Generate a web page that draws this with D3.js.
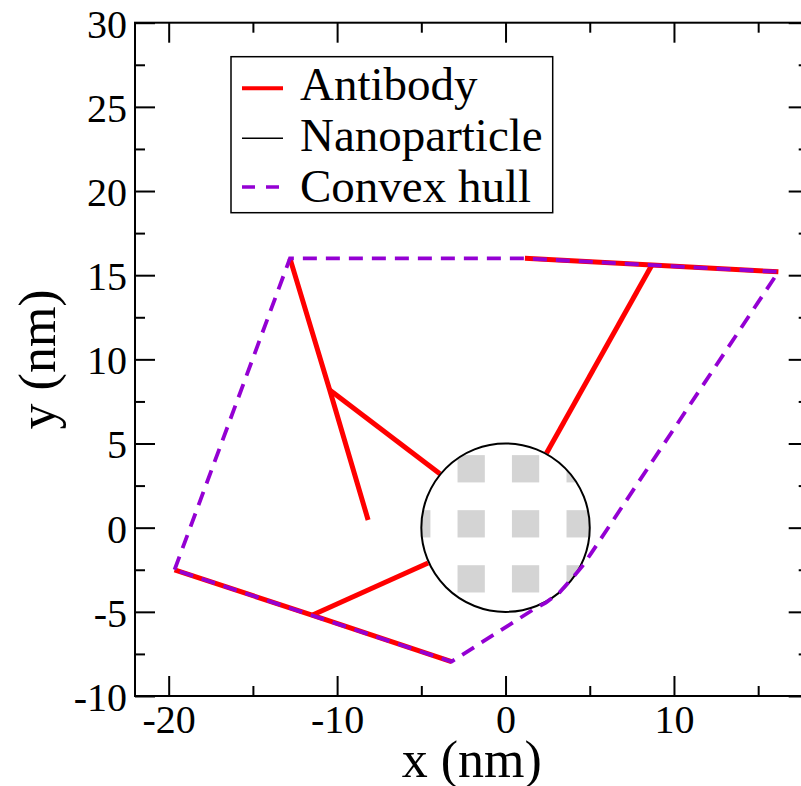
<!DOCTYPE html>
<html>
<head>
<meta charset="utf-8">
<script src="https://cdn.jsdelivr.net/npm/d3@7"></script>
<style>
  html, body { margin: 0; padding: 0; background: #fff; }
  svg { display: block; }
  text { font-family: "Liberation Serif", "Times New Roman", serif; fill: #000; }
</style>
</head>
<body>
<svg id="chart" width="801" height="786"></svg>
<script>
// ---- data (nm) ----
const xMajor = [-20, -10, 0, 10];
const xMinor = [-15, -5, 5, 15];
const yMajor = [-10, -5, 0, 5, 10, 15, 20, 25, 30];
const yMinor = [-7.5, -2.5, 2.5, 7.5, 12.5, 17.5, 22.5, 27.5];

// antibody chains: each is a polyline [x, y]
const antibodyChains = [
  [[-12.8, 16.0], [-10.44, 8.18], [-8.16, 0.46]],
  [[-10.44, 8.18], [-3.9, 3.2]],
  [[-19.65, -2.5], [-11.49, -5.2], [-3.21, -7.96]],
  [[-11.49, -5.2], [-4.6, -2.1]],
  [[1.15, 16.0], [8.69, 15.6], [16.2, 15.2]],
  [[8.69, 15.6], [2.43, 4.42]]
];

// convex hull vertices
const hull = [
  [-19.65, -2.5], [-12.8, 16.0], [1.15, 16.0], [16.2, 15.2],
  [5.1, -1.5], [4.55, -2.3], [4.0, -2.95], [3.2, -3.85], [2.4, -4.45], [1.75, -4.8],
  [-3.21, -7.96]
];

// nanoparticle
const npCenter = [0, 0];
const npRadius = 5;
const patchX = [-5.27, -2.04, 1.19, 4.43];
const patchY = [3.5, 0.23, -3.04];
const patchSize = 1.62;

const legendItems = ["Antibody", "Nanoparticle", "Convex hull"];

// ---- layout ----
const svg = d3.select('#chart');
const x = d3.scaleLinear().domain([-22, 18]).range([135, 808.7]);
const y = d3.scaleLinear().domain([-10, 30]).range([696, 22.7]);
const sx = d => x(d) - x(0); // nm -> px length

const red = '#ff0000', purple = '#9400d3';
const line = d3.line().x(d => x(d[0])).y(d => y(d[1]));

// antibodies
svg.append('g').selectAll('path')
  .data(antibodyChains)
  .join('path')
    .attr('d', line)
    .attr('fill', 'none')
    .attr('stroke', red)
    .attr('stroke-width', 5)
    .attr('stroke-linejoin', 'miter');

// nanoparticle
svg.append('clipPath').attr('id', 'npclip')
  .append('circle')
    .attr('cx', x(npCenter[0])).attr('cy', y(npCenter[1])).attr('r', sx(npRadius));

const np = svg.append('g');
np.append('circle')
  .attr('cx', x(npCenter[0])).attr('cy', y(npCenter[1])).attr('r', sx(npRadius))
  .attr('fill', '#fff');

const cells = [];
patchX.forEach(px => patchY.forEach(py => cells.push([px, py])));
np.append('g').attr('clip-path', 'url(#npclip)')
  .selectAll('rect')
  .data(cells)
  .join('rect')
    .attr('x', d => x(d[0] - patchSize / 2))
    .attr('y', d => y(d[1] + patchSize / 2))
    .attr('width', sx(patchSize))
    .attr('height', sx(patchSize))
    .attr('fill', '#d4d4d4');

np.append('circle')
  .attr('cx', x(npCenter[0])).attr('cy', y(npCenter[1])).attr('r', sx(npRadius))
  .attr('fill', 'none').attr('stroke', '#000').attr('stroke-width', 2);

// hull
svg.append('path')
  .datum(hull)
  .attr('d', d3.line().x(d => x(d[0])).y(d => y(d[1])).curve(d3.curveLinearClosed))
  .attr('fill', 'none')
  .attr('stroke', purple)
  .attr('stroke-width', 3.8)
  .attr('stroke-dasharray', '14,9');

// ---- axes (ticks point inward on all four sides) ----
const fmt = d => String(d);
function styleAxis(g) {
  g.select('.domain').remove();
  g.selectAll('line').attr('stroke', '#000').attr('stroke-width', 2);
}

const yB = y(-10), yT = y(30), xL = x(-22), xR = x(18);

svg.append('g').attr('transform', `translate(0,${yB})`)
  .call(d3.axisBottom(x).tickValues(xMajor).tickSize(-20).tickFormat(fmt))
  .call(styleAxis)
  .call(g => g.selectAll('text').attr('y', 37).attr('dy', 0)
    .attr('font-size', 40));
svg.append('g').attr('transform', `translate(0,${yB})`)
  .call(d3.axisBottom(x).tickValues(xMinor).tickSize(-10).tickFormat(''))
  .call(styleAxis);
svg.append('g').attr('transform', `translate(0,${yT})`)
  .call(d3.axisTop(x).tickValues(xMajor).tickSize(-20).tickFormat(''))
  .call(styleAxis);
svg.append('g').attr('transform', `translate(0,${yT})`)
  .call(d3.axisTop(x).tickValues(xMinor).tickSize(-10).tickFormat(''))
  .call(styleAxis);

svg.append('g').attr('transform', `translate(${xL},0)`)
  .call(d3.axisLeft(y).tickValues(yMajor).tickSize(-20).tickFormat(fmt).tickPadding(8))
  .call(styleAxis)
  .call(g => g.selectAll('text').attr('dy', '0.36em')
    .attr('font-size', 40));
svg.append('g').attr('transform', `translate(${xL},0)`)
  .call(d3.axisLeft(y).tickValues(yMinor).tickSize(-10).tickFormat(''))
  .call(styleAxis);
svg.append('g').attr('transform', `translate(${xR},0)`)
  .call(d3.axisRight(y).tickValues(yMajor).tickSize(-20).tickFormat(''))
  .call(styleAxis);
svg.append('g').attr('transform', `translate(${xR},0)`)
  .call(d3.axisRight(y).tickValues(yMinor).tickSize(-10).tickFormat(''))
  .call(styleAxis);

// frame
svg.append('rect')
  .attr('x', xL).attr('y', yT)
  .attr('width', xR - xL).attr('height', yB - yT)
  .attr('fill', 'none').attr('stroke', '#000').attr('stroke-width', 2);

// axis titles
svg.append('text')
  .attr('x', (xL + xR) / 2).attr('y', 777)
  .attr('text-anchor', 'middle').attr('font-size', 52)
  .text('x (nm)');
svg.append('text')
  .attr('transform', `translate(55,${(yT + yB) / 2}) rotate(-90)`)
  .attr('text-anchor', 'middle').attr('font-size', 52)
  .text('y (nm)');

// ---- legend ----
const lg = svg.append('g');
lg.append('rect')
  .attr('x', 231).attr('y', 56.7).attr('width', 321.7).attr('height', 156)
  .attr('fill', '#fff').attr('stroke', '#000').attr('stroke-width', 1.5);
const legendStyles = [
  { stroke: red, width: 4, dash: null },
  { stroke: '#000', width: 1.5, dash: null },
  { stroke: purple, width: 3.5, dash: '13,11' }
];
const rowY = [88.3, 138.3, 187];
const rowBase = [99.5, 150.5, 201.5];
legendItems.forEach((label, i) => {
  const s = legendStyles[i];
  lg.append('line')
    .attr('x1', 242).attr('x2', 283).attr('y1', rowY[i]).attr('y2', rowY[i])
    .attr('stroke', s.stroke).attr('stroke-width', s.width)
    .attr('stroke-dasharray', s.dash);
  lg.append('text')
    .attr('x', 300).attr('y', rowBase[i])
    .attr('font-size', 47)
    .text(label);
});
</script>
</body>
</html>
